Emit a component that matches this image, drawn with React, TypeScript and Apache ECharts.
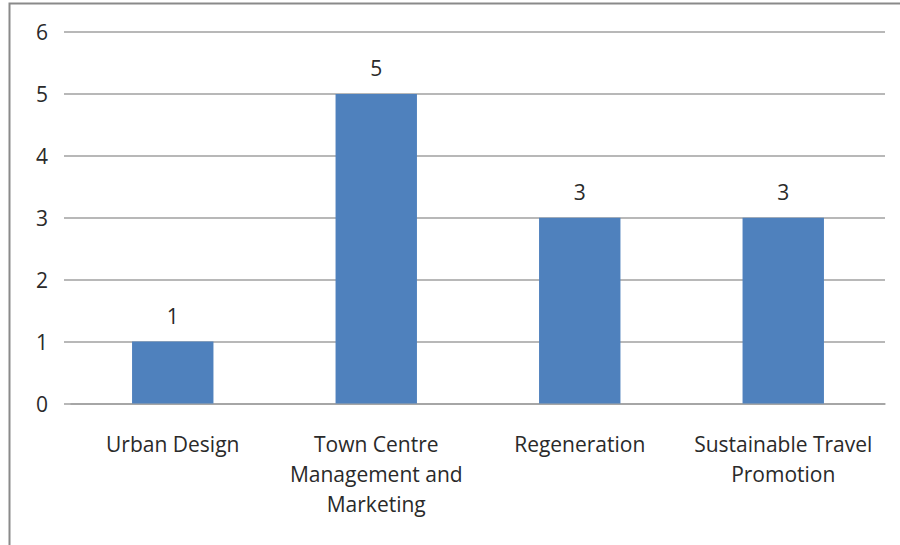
import React, { useEffect, useRef } from "react";
import * as echarts from "echarts";

const categories = [
  "Urban Design",
  "Town Centre\nManagement and\nMarketing",
  "Regeneration",
  "Sustainable Travel\nPromotion",
];
const values = [1, 5, 3, 3];
const yTicks = { min: 0, max: 6, interval: 1 };

export default function App() {
  const ref = useRef<HTMLDivElement>(null);
  useEffect(() => {
    if (!ref.current) return;
    const chart = echarts.init(ref.current, null, { renderer: "svg" });
    const font = "Open Sans";
    chart.setOption({
      animation: false,
      backgroundColor: "#ffffff",
      grid: { left: 71, right: 15, top: 32, bottom: 141.5, containLabel: false },
      graphic: [
        {
          type: "rect",
          shape: { x: 9.5, y: 3.5, width: 1000, height: 1000 },
          style: { fill: "none", stroke: "#8a8a8a", lineWidth: 2 },
          silent: true,
        },
      ],
      xAxis: {
        type: "category",
        data: categories,
        axisLine: { show: true, lineStyle: { color: "#a0a0a0", width: 1.5 } },
        axisTick: { show: false },
        axisLabel: {
          interval: 0,
          margin: 25,
          color: "#2a2a2a",
          fontFamily: font,
          fontSize: 21,
          lineHeight: 30,
          align: "center",
        },
      },
      yAxis: {
        type: "value",
        min: yTicks.min,
        max: yTicks.max,
        interval: yTicks.interval,
        axisLine: { show: false },
        axisTick: { show: true, length: 7, lineStyle: { color: "#a0a0a0", width: 1.5 } },
        splitLine: { show: true, lineStyle: { color: "#a0a0a0", width: 1.5 } },
        axisLabel: {
          margin: 23,
          color: "#2a2a2a",
          fontFamily: font,
          fontSize: 21,
        },
      },
      series: [
        {
          type: "bar",
          data: values,
          barWidth: "40%",
          itemStyle: { color: "#4F81BD" },
          label: {
            show: true,
            position: "top",
            distance: 15,
            color: "#2a2a2a",
            fontFamily: font,
            fontSize: 21,
          },
        },
      ],
    });
    return () => chart.dispose();
  }, []);
  return (
    <div
      ref={ref}
      style={{ position: "fixed", left: 0, top: 0, width: 900, height: 545 }}
    />
  );
}
